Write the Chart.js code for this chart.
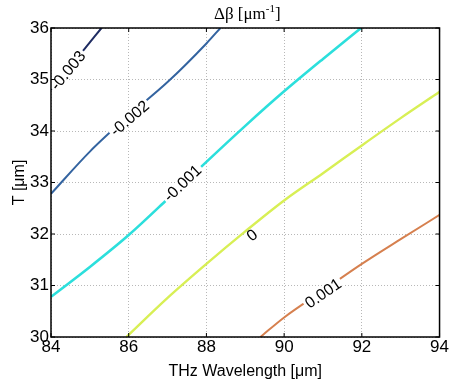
<!DOCTYPE html>
<html>
<head>
<meta charset="utf-8">
<script src="https://cdn.jsdelivr.net/npm/chart.js"></script>
<style>
  html, body { margin: 0; padding: 0; background: #fff; }
  #wrap { width: 449px; height: 383px; }
</style>
</head>
<body>
<div id="wrap"><canvas id="contour"></canvas></div>
<script>
// contour levels of delta beta [um^-1]
const levels = ['-0.003', '-0.002', '-0.001', '0', '0.001'];
const levelColors = ['#1f2c62', '#3464a0', '#2cdfdc', '#d8ef55', '#d6804f'];
const levelWidths = [2, 2, 2.6, 2.4, 2];

// THz wavelength [um] / T [um] along each contour line
const wl_m3 = [84.0, 84.74, 85.3];
const T_m3 = [34.8, 35.48, 36.0];
const wl_m2 = [84.0, 85.0, 86.0, 87.0, 88.0, 88.36];
const T_m2 = [32.78, 33.6, 34.3, 34.95, 35.7, 36.0];
const wl_m1 = [84.0, 85.0, 86.0, 87.0, 88.0, 89.0, 90.0, 91.0, 91.98];
const T_m1 = [30.78, 31.36, 31.98, 32.68, 33.4, 34.1, 34.77, 35.4, 36.0];
const wl_0 = [85.94, 87.0, 88.0, 89.0, 90.0, 91.0, 92.0, 93.0, 94.0];
const T_0 = [30.0, 30.76, 31.42, 32.05, 32.65, 33.18, 33.72, 34.25, 34.76];
const wl_p1 = [89.39, 90.0, 91.0, 92.0, 93.0, 94.0];
const T_p1 = [30.0, 30.38, 30.9, 31.42, 31.9, 32.37];

// where the inline labels sit
const labelWl = [84.43, 86.02, 87.38, 89.17, 91.0];
const labelT = [35.18, 34.25, 32.99, 31.98, 30.85];

const xTicks = [84, 86, 88, 90, 92, 94];
const yTicks = [30, 31, 32, 33, 34, 35, 36];

const lines = [[wl_m3, T_m3], [wl_m2, T_m2], [wl_m1, T_m1], [wl_0, T_0], [wl_p1, T_p1]];

const datasets = lines.map((l, i) => ({
    label: levels[i],
    data: l[0].map((w, j) => ({ x: w, y: l[1][j] })),
    borderColor: levelColors[i],
    borderWidth: levelWidths[i],
    showLine: true,
    cubicInterpolationMode: 'monotone',
    pointRadius: 0,
    fill: false
}));

// title, box, inward ticks and inline contour labels (like clabel)
const matlabBits = {
    id: 'matlabBits',
    afterDatasetsDraw(chart) {
        const { ctx, chartArea: a, scales: { x, y } } = chart;
        ctx.save();
        // inline labels
        ctx.font = '16px "Liberation Sans", Arial, sans-serif';
        ctx.textAlign = 'center';
        ctx.textBaseline = 'middle';
        lines.forEach((l, i) => {
            const wl = l[0], T = l[1];
            let k = 0;
            while (k < wl.length - 2 && wl[k + 1] < labelWl[i]) k++;
            const dx = x.getPixelForValue(wl[k + 1]) - x.getPixelForValue(wl[k]);
            const dy = y.getPixelForValue(T[k + 1]) - y.getPixelForValue(T[k]);
            const ang = Math.atan2(dy, dx);
            const px = x.getPixelForValue(labelWl[i]);
            const py = y.getPixelForValue(labelT[i]);
            const w = ctx.measureText(levels[i]).width;
            ctx.save();
            ctx.translate(px, py);
            ctx.rotate(ang);
            ctx.fillStyle = '#fff';
            ctx.fillRect(-w / 2 - 2, -5, w + 4, 10);
            ctx.fillStyle = '#000';
            ctx.fillText(levels[i], 0, 1);
            ctx.restore();
        });
        // box
        ctx.strokeStyle = '#000';
        ctx.lineWidth = 1.5;
        ctx.strokeRect(a.left, a.top, a.right - a.left, a.bottom - a.top);
        // ticks pointing inward
        ctx.lineWidth = 1;
        xTicks.forEach(v => {
            const p = x.getPixelForValue(v);
            ctx.beginPath();
            ctx.moveTo(p, a.bottom); ctx.lineTo(p, a.bottom - 4);
            ctx.moveTo(p, a.top); ctx.lineTo(p, a.top + 4);
            ctx.stroke();
        });
        yTicks.forEach(v => {
            const p = y.getPixelForValue(v);
            ctx.beginPath();
            ctx.moveTo(a.left, p); ctx.lineTo(a.left + 4, p);
            ctx.moveTo(a.right, p); ctx.lineTo(a.right - 4, p);
            ctx.stroke();
        });
        // title  Δβ [μm^-1]
        const cx = (a.left + a.right) / 2 + 2;
        const base = 19;
        ctx.fillStyle = '#000';
        ctx.textAlign = 'left';
        ctx.textBaseline = 'alphabetic';
        const big = '17px "Liberation Serif", "Times New Roman", serif';
        const small = '11px "Liberation Serif", "Times New Roman", serif';
        ctx.font = big;
        const w1 = ctx.measureText('Δβ [μm').width;
        const w3 = ctx.measureText(']').width;
        ctx.font = small;
        const w2 = ctx.measureText('-1').width;
        let tx = cx - (w1 + w2 + w3) / 2;
        ctx.font = big;
        ctx.fillText('Δβ [μm', tx, base);
        ctx.font = small;
        ctx.fillText('-1', tx + w1, base - 7);
        ctx.font = big;
        ctx.fillText(']', tx + w1 + w2, base);
        ctx.restore();
    }
};

const tickFont = { family: '"Liberation Sans", Arial, sans-serif', size: 17 };

new Chart(document.getElementById('contour'), {
    type: 'scatter',
    data: { datasets: datasets },
    options: {
        responsive: true,
        maintainAspectRatio: false,
        animation: false,
        layout: { padding: { top: 28, right: 7, left: 0, bottom: 0 } },
        plugins: {
            legend: { display: false },
            tooltip: { enabled: false }
        },
        scales: {
            x: {
                type: 'linear',
                min: 84, max: 94,
                afterBuildTicks: s => { s.ticks = xTicks.map(v => ({ value: v })); },
                afterFit: s => { s.height = 46; },
                ticks: { color: '#000', font: tickFont, padding: 0, maxRotation: 0 },
                grid: { color: '#b8b8b8', lineWidth: 1, drawTicks: false },
                border: { display: false, dash: [1, 2] },
                title: { display: true, text: 'THz Wavelength [μm]', color: '#000', font: { family: tickFont.family, size: 16 }, padding: { top: 0, bottom: 2 } }
            },
            y: {
                type: 'linear',
                min: 30, max: 36,
                afterBuildTicks: s => { s.ticks = yTicks.map(v => ({ value: v })); },
                afterFit: s => { s.width = 51; },
                ticks: { color: '#000', font: tickFont, padding: 2 },
                grid: { color: '#b8b8b8', lineWidth: 1, drawTicks: false },
                border: { display: false, dash: [1, 2] },
                title: { display: true, text: 'T [μm]', color: '#000', font: { family: tickFont.family, size: 16 }, padding: { top: 10, bottom: 0 } }
            }
        }
    },
    plugins: [matlabBits]
});
</script>
</body>
</html>
